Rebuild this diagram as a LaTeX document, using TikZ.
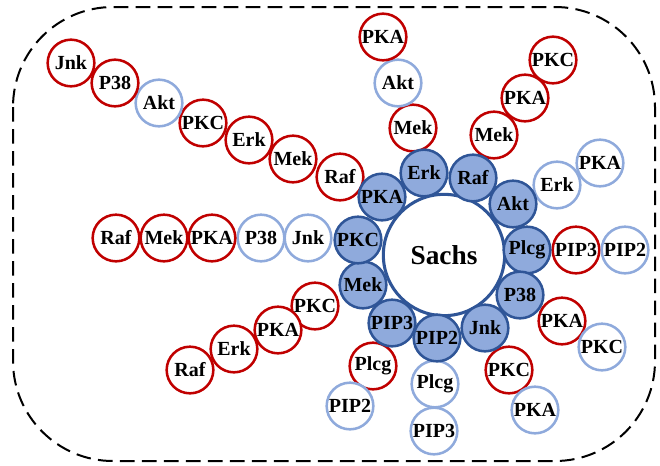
\documentclass[tikz,border=0pt]{standalone}
\usepackage{fontspec}
\setmainfont{Liberation Serif}
\definecolor{hubline}{HTML}{2F5597}
\definecolor{hubfill}{HTML}{8FAADC}
\definecolor{redring}{HTML}{C00000}
\definecolor{bluering}{HTML}{8FAADC}
\tikzset{
  ring/.style={circle, inner sep=0pt, minimum size=35pt, line width=1.9pt,
    font=\fontsize{15}{15}\selectfont\bfseries, fill=white},
  hub/.style={ring, draw=hubline, fill=hubfill},
  redc/.style={ring, draw=redring},
  bluec/.style={ring, draw=bluering},
}
\begin{document}
\begin{tikzpicture}[x=0.75pt,y=-0.75pt]
\useasboundingbox (0,0) rectangle (660,465);
% cell boundary
\draw[line width=1.5pt, dash pattern=on 11pt off 5.5pt, rounded corners=75pt]
  (13,7) rectangle (655,461);

% central node
\node[circle, draw=hubline, line width=2.3pt, fill=white, minimum size=91pt,
  inner sep=0pt, font=\fontsize{20.5}{20.5}\selectfont\bfseries] (sachs) at (444,255) {Sachs};

% upper-left diagonal chain
\node[redc]  (a1) at (340,177) {Raf};
\node[redc]  (a2) at (293,159) {Mek};
\node[redc]  (a3) at (249,140) {Erk};
\node[redc]  (a4) at (203,123) {PKC};
\node[bluec] (a5) at (159,103) {Akt};
\node[redc]  (a6) at (115,83)  {P38};
\node[redc]  (a7) at (71,63)   {Jnk};

% horizontal chain
\node[bluec] (b1) at (308,238) {Jnk};
\node[bluec] (b2) at (261,238) {P38};
\node[redc]  (b3) at (212,238) {PKA};
\node[redc]  (b4) at (164,238) {Mek};
\node[redc]  (b5) at (116,238) {Raf};

% lower-left chain
\node[redc]  (c1) at (315,306) {PKC};
\node[redc]  (c2) at (278,330) {PKA};
\node[redc]  (c3) at (234,349) {Erk};
\node[redc]  (c4) at (190,370) {Raf};

% below PIP3
\node[redc]  (d1) at (373,366) {Plcg};
\node[bluec] (d2) at (350,406) {PIP2};

% below PIP2
\node[bluec] (e1) at (435,384) {Plcg};
\node[bluec] (e2) at (434,431) {PIP3};

% below Jnk
\node[redc]  (f1) at (509,370) {PKC};
\node[bluec] (f2) at (535,410) {PKA};

% right of P38
\node[redc]  (g1) at (562,321) {PKA};
\node[bluec] (g2) at (602,347) {PKC};

% right of Plcg
\node[redc]  (h1) at (576,250) {PIP3};
\node[bluec] (h2) at (625,250) {PIP2};

% right of Akt
\node[bluec] (i1) at (557,185) {Erk};
\node[bluec] (i2) at (600,163) {PKA};

% above Raf
\node[redc]  (j1) at (494,135) {Mek};
\node[redc]  (j2) at (525,98)  {PKA};
\node[redc]  (j3) at (553,60)  {PKC};

% above Erk
\node[redc]  (k1) at (413,128) {Mek};
\node[bluec] (k2) at (398,83)  {Akt};
\node[redc]  (k3) at (383,37)  {PKA};

% ring of hub nodes round the centre
\node[hub] (hPKA)  at (382,197) {PKA};
\node[hub] (hErk)  at (424,173) {Erk};
\node[hub] (hRaf)  at (473,178) {Raf};
\node[hub] (hAkt)  at (513,204) {Akt};
\node[hub] (hPlcg) at (527,250) {Plcg};
\node[hub] (hP38)  at (520,295) {P38};
\node[hub] (hJnk)  at (485,328) {Jnk};
\node[hub] (hPIP2) at (437,338) {PIP2};
\node[hub] (hPIP3) at (392,323) {PIP3};
\node[hub] (hMek)  at (363,285) {Mek};
\node[hub] (hPKC)  at (358,240) {PKC};
\end{tikzpicture}
\end{document}
